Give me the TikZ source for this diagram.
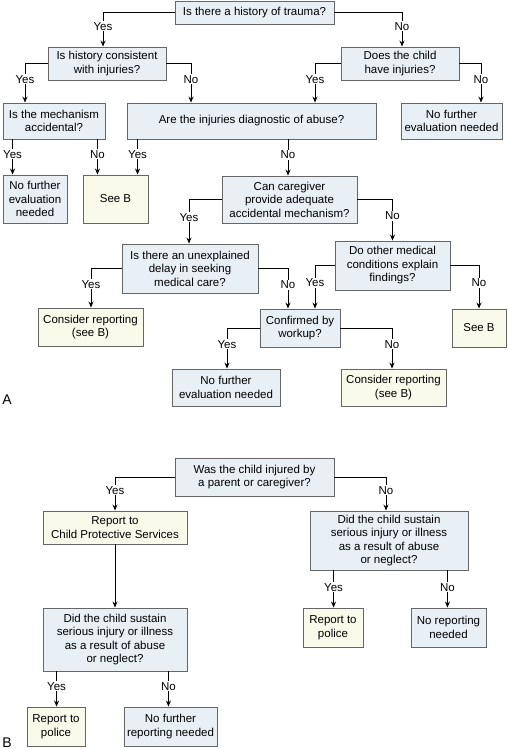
\documentclass[tikz,border=0pt]{standalone}
\usepackage{fontspec}
\setmainfont{Liberation Sans}
\usetikzlibrary{arrows.meta}

\definecolor{qblue}{RGB}{232,240,245}
\definecolor{ayellow}{RGB}{250,250,234}

\tikzset{
  qbox/.style={draw=black!60,fill=qblue,align=center,inner sep=0pt,line width=0.9pt},
  abox/.style={draw=black!60,fill=ayellow,align=center,inner sep=0pt,line width=0.9pt},
  yn/.style={fill=white,inner sep=1pt},
  flow/.style={-{Stealth[length=6pt,width=5pt]},line width=1pt}
}

\begin{document}
\begin{tikzpicture}[x=1pt,y=-1pt,font=\fontsize{11.5}{13.5}\selectfont]
\useasboundingbox (0,0) rectangle (508,750);

% part A
\node[qbox,minimum width=159,minimum height=23] (trauma) at (254.5,12.5) {Is there a history of trauma?};
\node[qbox,minimum width=118,minimum height=33] (consist) at (107,63.5) {Is history consistent\\with injuries?};
\node[qbox,minimum width=118,minimum height=33] (dchild) at (400,63.5) {Does the child\\have injuries?};
\node[qbox,minimum width=102,minimum height=36] (mech) at (54,121) {Is the mechanism\\accidental?};
\node[qbox,minimum width=249,minimum height=36] (diag) at (251.5,121) {Are the injuries diagnostic of abuse?};
\node[qbox,minimum width=101,minimum height=36] (nfeR) at (451.5,121) {No further\\evaluation needed};
\node[qbox,minimum width=64,minimum height=48] (nfeL) at (35,199) {No further\\evaluation\\needed};
\node[abox,minimum width=65,minimum height=48] (seeBa) at (115.5,199) {See B};
\node[qbox,minimum width=135,minimum height=47] (cancare) at (289.5,199.5) {Can caregiver\\provide adequate\\accidental mechanism?};
\node[qbox,minimum width=136,minimum height=49] (delay) at (190,268.5) {Is there an unexplained\\delay in seeking\\medical care?};
\node[qbox,minimum width=115,minimum height=49] (other) at (392.5,265.5) {Do other medical\\conditions explain\\findings?};
\node[abox,minimum width=105,minimum height=38] (consA) at (90.5,327) {Consider reporting\\(see B)};
\node[qbox,minimum width=80,minimum height=38] (confirm) at (300,328) {Confirmed by\\workup?};
\node[abox,minimum width=54,minimum height=38] (seeBb) at (479,328) {See B};
\node[qbox,minimum width=108,minimum height=37] (nfeM) at (226,387.5) {No further\\evaluation needed};
\node[abox,minimum width=105,minimum height=37] (consB) at (393.5,387.5) {Consider reporting\\(see B)};
\node[font=\fontsize{14}{16}\selectfont] (labA) at (7,400) {A};

\coordinate (mechYes) at ([xshift=10pt]mech.south west);
\coordinate (mechNo) at ([xshift=-8pt]mech.south east);
\coordinate (diagYes) at ([xshift=11pt]diag.south west);
\coordinate (diagNo) at ([xshift=36.5pt]diag.south);

\draw[flow] (trauma.west) -| node[yn,pos=0.7]{Yes} ([xshift=-4pt]consist.north);
\draw[flow] (trauma.east) -| node[yn,pos=0.7]{No} ([xshift=2pt]dchild.north);
\draw[flow] (consist.west) -| node[yn,pos=0.7]{Yes} ([xshift=-29pt]mech.north);
\draw[flow] (consist.east) -| node[yn,pos=0.7]{No} ([xshift=-60.5pt]diag.north);
\draw[flow] (dchild.west) -| node[yn,pos=0.7]{Yes} ([xshift=63.5pt]diag.north);
\draw[flow] (dchild.east) -| node[yn,pos=0.7]{No} ([xshift=29.5pt]nfeR.north);
\draw[flow] (mechYes) -- node[yn,pos=0.42]{Yes} (mechYes |- nfeL.north);
\draw[flow] (mechNo) -- node[yn,pos=0.42]{No} (mechNo |- seeBa.north);
\draw[flow] (diagYes) -- node[yn,pos=0.42]{Yes} (diagYes |- seeBa.north);
\draw[flow] (diagNo) -- node[yn,pos=0.42]{No} (diagNo |- cancare.north);
\draw[flow] (cancare.west) -| node[yn,pos=0.7]{Yes} ([xshift=-1pt]delay.north);
\draw[flow] (cancare.east) -| node[yn,pos=0.7]{No} (other.north);
\draw[flow] (delay.west) -| node[yn,pos=0.7]{Yes} ([xshift=0.5pt]consA.north);
\draw[flow] (delay.east) -| node[yn,pos=0.7]{No} ([xshift=-12pt]confirm.north);
\draw[flow] (other.west) -| node[yn,pos=0.7]{Yes} ([xshift=15pt]confirm.north);
\draw[flow] (other.east) -| node[yn,pos=0.7]{No} (seeBb.north);
\draw[flow] (confirm.west) -| node[yn,pos=0.7]{Yes} ([xshift=1pt]nfeM.north);
\draw[flow] (confirm.east) -| node[yn,pos=0.7]{No} ([xshift=-1.5pt]consB.north);

% part B
\node[qbox,minimum width=159,minimum height=38] (injured) at (254.5,477) {Was the child injured by\\a parent or caregiver?};
\node[abox,minimum width=144,minimum height=33] (cps) at (115,527.5) {Report to\\Child Protective Services};
\node[qbox,minimum width=144,minimum height=63] (sustainL) at (115,639.5) {Did the child sustain\\serious injury or illness\\as a result of abuse\\or neglect?};
\node[abox,minimum width=58,minimum height=39] (policeL) at (56,726.5) {Report to\\police};
\node[qbox,minimum width=93,minimum height=39] (nfrn) at (170.5,726.5) {No further\\reporting needed};
\node[qbox,minimum width=158,minimum height=59] (sustainR) at (389,540.5) {Did the child sustain\\serious injury or illness\\as a result of abuse\\or neglect?};
\node[abox,minimum width=60,minimum height=39] (policeR) at (333,627.5) {Report to\\police};
\node[qbox,minimum width=75,minimum height=39] (norep) at (448.5,627.5) {No reporting\\needed};
\node[font=\fontsize{14}{16}\selectfont] (labB) at (7,743) {B};

\coordinate (sLYes) at ([xshift=14pt]sustainL.south west);
\coordinate (sLNo) at ([xshift=-19pt]sustainL.south east);
\coordinate (sRYes) at ([xshift=24pt]sustainR.south west);
\coordinate (sRNo) at ([xshift=-21pt]sustainR.south east);

\draw[flow] (injured.west) -| node[yn,pos=0.7]{Yes} (cps.north);
\draw[flow] (injured.east) -| node[yn,pos=0.7]{No} ([xshift=-3pt]sustainR.north);
\draw[flow] (cps.south) -- (sustainL.north);
\draw[flow] (sLYes) -- node[yn,pos=0.42]{Yes} (sLYes |- policeL.north);
\draw[flow] (sLNo) -- node[yn,pos=0.42]{No} (sLNo |- nfrn.north);
\draw[flow] (sRYes) -- node[yn,pos=0.45]{Yes} (sRYes |- policeR.north);
\draw[flow] (sRNo) -- node[yn,pos=0.45]{No} (sRNo |- norep.north);
\end{tikzpicture}
\end{document}
